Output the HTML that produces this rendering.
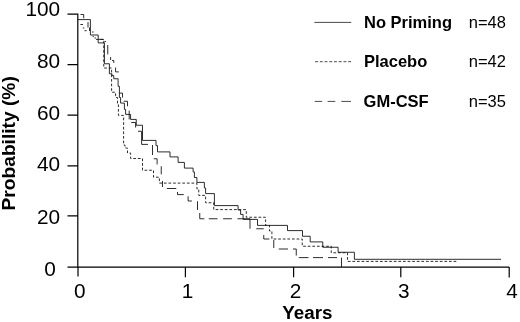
<!DOCTYPE html>
<html><head><meta charset="utf-8">
<style>
html,body{margin:0;padding:0;background:#fff;}
body{width:520px;height:322px;overflow:hidden;position:relative;}
svg{position:absolute;left:0;top:0;display:block;}
text{font-family:"Liberation Sans",Arial,Helvetica,sans-serif;fill:#000;}
.tk{font-size:20.8px;}
.b{font-weight:bold;}
.lg{font-size:16.5px;}
.ax{stroke:#000;stroke-width:1.2;fill:none;}
.lgl{stroke:#222;stroke-width:0.82;fill:none;}
.cv{stroke:#111;stroke-width:0.88;fill:none;}
</style></head><body>
<svg width="520" height="322" viewBox="0 0 520 322">
<rect width="520" height="322" fill="#fff"/>
<!-- axes -->
<path class="ax" d="M77.8,13.5 V267.8 M67.5,267.2 H509.2 M67.5,14.1 H78 M67.5,64.6 H78 M67.5,115.2 H78 M67.5,165.8 H78 M67.5,215.9 H78 M78,267 V276.5 M185.4,267 V277.2 M293.6,267 V277.2 M400.8,267 V277.2 M509.2,267 V277.4"/>
<!-- y tick labels -->
<g class="tk" text-anchor="end" transform="translate(0.3,0)">
<text x="59.8" y="16.4">100</text>
<text x="59.8" y="68">80</text>
<text x="59.8" y="120.2">60</text>
<text x="59.8" y="170.5">40</text>
<text x="59.8" y="223.6">20</text>
<text x="55.6" y="276">0</text>
</g>
<g class="tk" text-anchor="middle">
<text x="79.8" y="297.8">0</text>
<text x="187.5" y="297.8">1</text>
<text x="295.6" y="297.8">2</text>
<text x="403.8" y="297.8">3</text>
<text x="512" y="297.8">4</text>
</g>
<text class="b" font-size="18.8" x="282.3" y="319">Years</text>
<text class="b" font-size="19.2" transform="translate(14.9,210.5) rotate(-90)">Probability (%)</text>
<!-- legend -->
<g class="lg">
<text class="b" x="364" y="27.8">No Priming</text>
<text class="b" x="364" y="67.3">Placebo</text>
<text class="b" x="363.6" y="106.7">GM-CSF</text>
<text x="468.8" y="27.8">n=48</text>
<text x="468.8" y="67.3">n=42</text>
<text x="468.8" y="106.7">n=35</text>
</g>
<path class="lgl" d="M314.3,22.4 H351.3"/>
<path class="lgl" stroke-dasharray="2.9 1.83" d="M315.1,61.7 H351.2"/>
<path class="lgl" d="M314.7,101.4 H322.1 M327.6,101.4 H335.3 M341.3,101.4 H351"/>
<!-- solid curve -->
<path class="cv" id="solid" d="M78,19.6 H90.4 V35 H98.2 V42.9 H104.4 V63.75 H109.4 V73.75 H111.9 V75.6 H113.75 V78.75 H118.1 V86.25 H119.4 V97.5 H120.6 V103.1 H124.4 V109.4 H125.6 V114.4 H130.6 V119.4 H136.25 V125.25 H142.5 V140.4 H156 V145.6 H157.5 V151.9 H170 V156.9 H178.1 V162.4 H184.4 V168.1 H193.1 V171.9 H194.4 V177.5 H196.9 V182.4 H204.4 V188 H205.6 V193.6 H214.4 V205.6 H238.1 V210 H240.6 V214.4 H243.1 V219.4 H257.5 V225.4 H287.5 V230.6 H302.5 V236.25 H310.2 V241.9 H322.75 V247.25 H338.1 V252.25 H354.4 V259.3 H501"/>
<!-- dotted curve -->
<path class="cv" id="dotted" stroke-dasharray="2.7 1.9" d="M96,39.4 H103.75 V68 H111.6 V92.25 H115.6 V97.5 H117.5 V104 H118.4 V115.4 H123.6 V145 H125 V148 H127.5 V153 H130.6 V158.5 H142.5 V170.25 H153.5 V177.2 H159.4 V183.1 H196.9 V188.75 H198.75 V195.4 H205.6 V202.75 H213.75 V209.6 H246.25 V217.25 H265.6 V225.4 H269.5 V231 H271.9 V239 H302.25 V246.25 H331.25 V252.75 H347.5 V261.4 H457"/>
<path class="cv" d="M80.4,24.5 H83 M82.8,28 H84.3 M84.5,30.7 H86.6 M92.6,36.6 H93.8 M94.6,38 H96"/>
<!-- dashed curve (explicit pieces) -->
<path class="cv" id="dashed" d="M80.5,14.5 H83.7 V18.3 M88,22 V27.5 M89.5,27.5 V31 M92,32 H93.5 M98.6,39.4 H103.75 M104.5,41.6 H106 M107.75,45 V54.4 M110.6,57 V60 M112,60.5 H113.8 V63 M115.6,67.5 V71.9 H118.75 M119.4,93.1 H122.5 V97.5 M123.75,101.25 H127.5 V106.25 M129.2,110.6 V119.4 M131.25,122.5 H135.6 V127.5 M138,131.25 H141.6 V144.4 H148 M152.5,145 V155 M153.75,158.75 H157.1 V164.4 M161.25,166.25 V174.4 M162.5,181 V187 M166.9,188.5 H176.25 M177.5,192 V194.6 H183.75 M188.1,196.25 V201 H191.9 M197.5,201.25 V210 M199.75,213 V218.75 H204.4 M208.75,218.75 H217.5 M223.1,218.75 H231.9 M237.5,218.75 H250 V228.75 M256.25,228.75 H263.75 M263.75,235 V239 H269.4 M273.75,240 V248 M278.75,249 H288 M293,249 H296.25 V255.6 M298.75,257.6 H308.5 M313,257.6 H323 M328,257.6 H337 M341.5,257.6 V267"/>
</svg>
</body></html>
